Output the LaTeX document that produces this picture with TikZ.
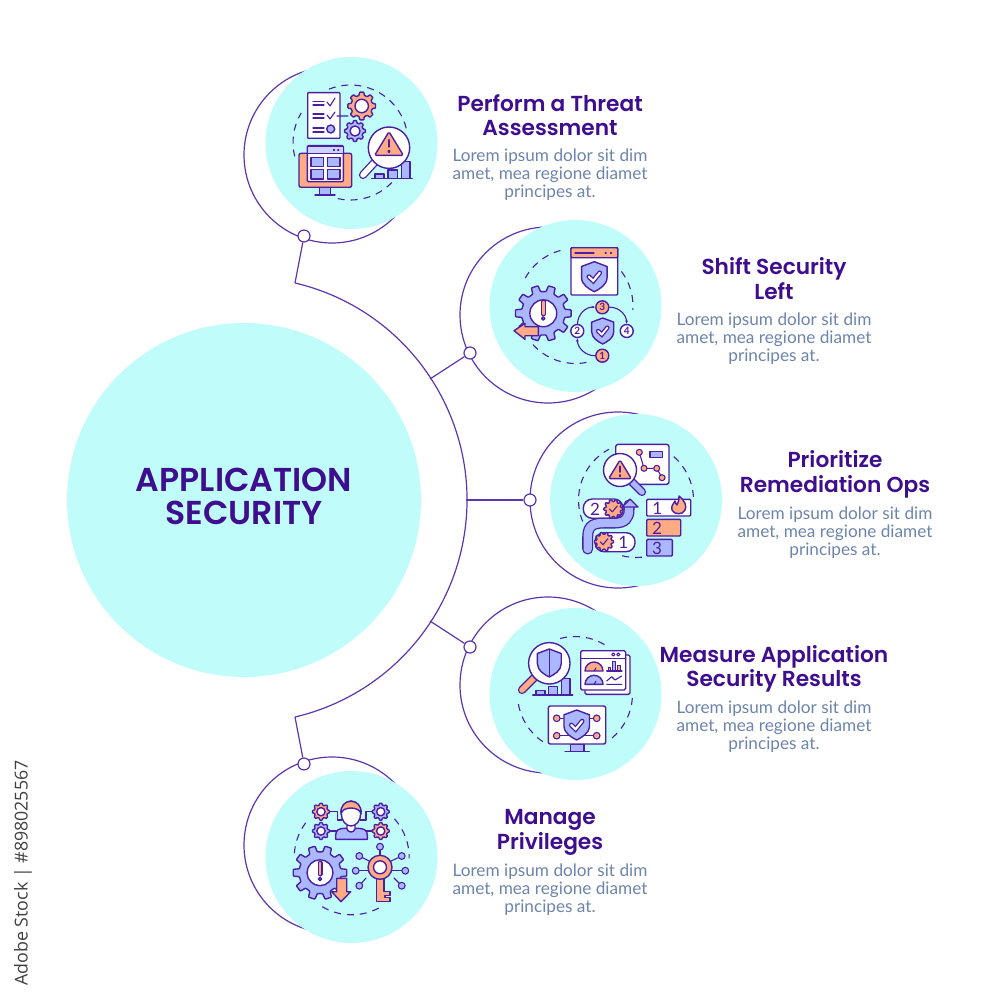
\documentclass[tikz,border=0pt]{standalone}
\usepackage{fontspec}
\setmainfont{Lato}
\newfontfamily\sidefont{Open Sans}
\newfontfamily\headfont{Poppins SemiBold}
\usepackage{tikz}
\usetikzlibrary{positioning,arrows.meta}

\definecolor{ink}{HTML}{4B1FA3}
\definecolor{headcol}{HTML}{3E0E8E}
\definecolor{bodycol}{HTML}{6D84AB}
\definecolor{aqua}{HTML}{BFFCFA}
\definecolor{peach}{HTML}{FFAB84}
\definecolor{lav}{HTML}{AAB8FF}

\tikzset{
  ic/.style={draw=ink,line width=1.4,line join=round,line cap=round},
  wire/.style={draw=ink,line width=1.1,line join=round,line cap=round},
  dashring/.style={draw=ink,line width=1.1,dash pattern=on 7 off 6},
  link/.style={draw=ink!90,line width=1.2},
  hub/.style={circle,fill=aqua,minimum size=354,inner sep=0},
  hubtext/.style={align=center,text=headcol,inner sep=0,font=\fontsize{33.1}{33.5}\selectfont\headfont},
  bubble/.style={circle,fill=aqua,minimum size=172,inner sep=0},
  ring/.style={circle,link,minimum size=176,inner sep=0},
  dot/.style={circle,link,fill=white,minimum size=12,inner sep=0},
  heading/.style={align=center,text=headcol,inner sep=0,font=\fontsize{21.7}{24.6}\selectfont\headfont},
  body/.style={align=center,text=bodycol,inner sep=0,font=\fontsize{17.2}{17.9}\selectfont},
  numdot/.style={circle,ic,minimum size=13,inner sep=0,font=\fontsize{10}{10}\selectfont\bfseries,text=ink},
  numtxt/.style={inner sep=0,text=ink,font=\fontsize{17}{17}\selectfont},
}

% outlined thick stroke
\newcommand{\tube}[3]{%
  \draw[line cap=round,draw=ink,line width=#1+2.6] #3;
  \draw[line cap=round,draw=#2,line width=#1] #3;}
% x, y, radius, teeth, colour
\newcommand{\gearicon}[5]{%
  \pgfmathsetmacro{\gstep}{360/#4}
  \begin{scope}[shift={(#1,#2)}]
  \draw[ic,fill=#5,rounded corners=.7] ({-.3*\gstep}:{.78*#3})
    \foreach \k in {1,...,#4} {
      -- ({(\k-1.2)*\gstep}:{#3}) -- ({(\k-.8)*\gstep}:{#3})
      -- ({(\k-.7)*\gstep}:{.78*#3}) -- ({(\k-.3)*\gstep}:{.78*#3})
    } -- cycle;
  \draw[ic,fill=white] (0,0) circle[radius=.48*#3];
  \end{scope}}
% x, y, radius: scalloped badge with a tick
\newcommand{\badgeicon}[3]{%
  \gearicon{#1}{#2}{#3}{10}{peach}
  \fill[peach] (#1,#2) circle[radius=.62*#3];
  \draw[wire] ({#1-.4*#3},#2) -- ({#1-.1*#3},{#2+.3*#3}) -- ({#1+.4*#3},{#2-.3*#3});}
% x, y, size, colour
\newcommand{\shieldicon}[4]{%
  \begin{scope}[shift={(#1,#2)},scale=#3]
    \draw[ic,fill=#4] (0,-1) -- (.85,-.68) -- (.85,.05) .. controls (.85,.55) and (.35,.82) .. (0,1)
      .. controls (-.35,.82) and (-.85,.55) .. (-.85,.05) -- (-.85,-.68) -- cycle;
  \end{scope}}
\newcommand{\checkicon}[3]{%
  \tube{#3/6}{white}{({#1-.42*#3},#2) -- ({#1-.08*#3},{#2+.32*#3}) -- ({#1+.42*#3},{#2-.3*#3})}}
% x, y, size
\newcommand{\warnicon}[3]{%
  \begin{scope}[shift={(#1,#2)},scale=#3]
    \draw[ic,fill=peach,rounded corners=1.5] (0,-1) -- (1.08,.78) -- (-1.08,.78) -- cycle;
    \draw[ic] (0,-.4) -- (0,.15);
    \draw[ic] (0,.48) circle[radius=.07];
  \end{scope}}
% lens x, y, radius, neck x, y, handle x, y, colour
\newcommand{\magicon}[8]{%
  \tube{2.4}{white}{(#1,#2) -- (#4,#5)}
  \tube{5.6}{#8}{(#4,#5) -- (#6,#7)}
  \draw[ic,fill=white] (#1,#2) circle[radius=#3];}
% x, top, bottom, dot, width
\newcommand{\bangicon}[5]{%
  \tube{#5}{peach}{(#1,#2) -- (#1,#3)}
  \draw[ic,fill=peach] (#1,#4) circle[radius=#5*.7];}
% centre x, y, start, end
\newcommand{\dasharc}[4]{%
  \begin{scope}[shift={(#1,#2)}]
  \draw[dashring] (#3:57.5) arc[start angle=#3,end angle=#4,radius=57.5];
  \end{scope}}

\begin{document}
\begin{tikzpicture}[x=1pt,y=-1pt]
\useasboundingbox (0,0) rectangle (1000,1000);

\node[ring] (ring1) at (332,155) {};
\node[ring] (ring2) at (548,315) {};
\node[ring] (ring3) at (618,500) {};
\node[ring] (ring4) at (548,685) {};
\node[ring] (ring5) at (332,845) {};

\node[bubble] (bub1) at (351.5,143) {};
\node[bubble] (bub2) at (575.5,306) {};
\node[bubble] (bub3) at (636,500) {};
\node[bubble] (bub4) at (575.5,694) {};
\node[bubble] (bub5) at (351.5,857) {};

\node[hub] (hub) at (244,500) {};
\node[hubtext] (hublabel) at (244,496.5) {APPLICATION\\SECURITY};
\coordinate (spinetop) at (295,283);
\coordinate (spineup) at (430,379);
\coordinate (spinemid) at (466,500);
\coordinate (spinelow) at (430,621);
\coordinate (spinebot) at (295,717);
\draw[link] (spinetop) arc[start angle=-76.8,end angle=76.8,radius=222.9];

\node[dot] (dot1) at (304,236) {};
\node[dot] (dot2) at (470,353) {};
\node[dot] (dot3) at (530,500) {};
\node[dot] (dot4) at (470,647) {};
\node[dot] (dot5) at (304,764) {};
\draw[link] (spinetop) -- (dot1);
\draw[link] (spineup) -- (dot2);
\draw[link] (spinemid) -- (dot3);
\draw[link] (spinelow) -- (dot4);
\draw[link] (spinebot) -- (dot5);

\node[heading] (head1) at (550,115) {Perform a Threat\\Assessment};
\node[heading] (head2) at (774,278.5) {Shift Security\\Left};
\node[heading] (head3) at (835,474.5) {Prioritize\\Remediation Ops};
\node[heading] (head4) at (774,669) {Measure Application\\Security Results};
\node[heading] (head5) at (550,832.5) {Manage\\Privileges};
\node[body] (text1) at (550,175) {Lorem ipsum dolor sit dim\\amet, mea regione diamet\\principes at.};
\node[body] (text2) at (774,339) {Lorem ipsum dolor sit dim\\amet, mea regione diamet\\principes at.};
\node[body] (text3) at (835,532.5) {Lorem ipsum dolor sit dim\\amet, mea regione diamet\\principes at.};
\node[body] (text4) at (774,726.5) {Lorem ipsum dolor sit dim\\amet, mea regione diamet\\principes at.};
\node[body] (text5) at (550,890) {Lorem ipsum dolor sit dim\\amet, mea regione diamet\\principes at.};
\node[rotate=90,inner sep=0,text=black!75,font=\fontsize{17.8}{18}\selectfont\sidefont] (stock) at (23,873) {Adobe Stock | \#898025567};

% threat assessment
\dasharc{350.5}{142.5}{-112}{-14}
\dasharc{350.5}{142.5}{44}{105}
\dasharc{350.5}{142.5}{166}{211}
\draw[ic,fill=white,rounded corners=.8] (307.7,92.7) rectangle (340,138.3);
\foreach \yy in {101.7,105,114,118,128,132} \draw[wire] (313,\yy) -- (324,\yy);
\draw[wire] (327,102) -- (330,106) -- (335,98);
\draw[wire] (327,115) -- (330,119) -- (335,112) (337,116) -- (348,116);
\draw[ic,fill=lav] (330.7,129) circle[radius=4];
\gearicon{361.7}{106}{14}{8}{peach}
\gearicon{355}{131}{10.5}{8}{lav}
\draw[ic,fill=lav] (319.3,187.3) rectangle (330.7,195);
\draw[ic] (315,195) -- (335,195);
\draw[ic,fill=peach,rounded corners=2] (299,153.3) rectangle (351.7,187.3);
\draw[ic,fill=white,rounded corners=1] (307.3,145.7) rectangle (343.3,181.7);
\draw[ic,fill=lav!60] (307.3,153.3) -- (307.3,146.7) -- (343.3,146.7) -- (343.3,153.3) -- cycle;
\draw[ic,fill=lav] (311,157.7) rectangle (323.3,166.7) (327.3,157.7) rectangle (340,166.7)
  (311,169.3) rectangle (323.3,179) (327.3,169.3) rectangle (340,179);
\draw[wire,fill=ink] (334,150) circle[radius=.6] (338.3,150) circle[radius=.6];
\draw[ic,fill=lav] (375,178.3) rectangle (384,174) (388,178.3) rectangle (397.3,170) (401.7,178.3) rectangle (410,161.7);
\draw[ic] (371.7,178.3) -- (412.3,178.3);
\magicon{389}{147.7}{20.7}{374}{163}{363}{175}{white}
\warnicon{389}{145}{13.3}

% shift security left
\dasharc{575.5}{306}{209}{257}
\dasharc{575.5}{306}{79}{140}
\dasharc{575.5}{306}{-37}{4}
\draw[ic,fill=white,rounded corners=1] (571,247.7) rectangle (617.7,295);
\draw[ic,fill=peach,rounded corners=1] (571,247.7) rectangle (617.7,257.7);
\draw[wire] (575,253) -- (594,253);
\draw[wire,fill=ink] (605.7,253) circle[radius=.6] (611,253) circle[radius=.6];
\shieldicon{594.3}{276.7}{15}{lav}
\checkicon{594.3}{276.7}{13}
\gearicon{543.3}{313.3}{28}{10}{lav}
\bangicon{543.3}{302}{314}{318.5}{2.4}
\draw[ic,fill=peach] (514,330.7) -- (525,323.3) -- (525,326.7) -- (538.3,326.7) -- (538.3,335.7) -- (525,335.7) -- (525,339.3) -- cycle;
\shieldicon{602.7}{331}{13}{lav}
\checkicon{602.7}{331}{11}
\node[numdot,fill=peach] (num1) at (602.3,355.7) {1};
\node[numdot,fill=white] (num2) at (577.3,331) {2};
\node[numdot,fill=peach] (num3) at (602.3,307.3) {3};
\node[numdot,fill=white] (num4) at (626.7,331) {4};
\draw[wire,-{Stealth[length=3.5pt]}] (num1) to[bend left=45] (num2);
\draw[wire,-{Stealth[length=3.5pt]}] (num2) to[bend left=45] (num3);
\draw[wire,-{Stealth[length=3.5pt]}] (num3) to[bend left=45] (num4);

% prioritize remediation
\dasharc{636}{500}{158}{242}
\dasharc{636}{500}{-49}{-2}
\dasharc{636}{500}{84}{106}
\draw[ic,fill=white,rounded corners=2.5] (615.7,444.3) rectangle (669,484.3);
\draw[ic,fill=lav] (650,451.7) rectangle (662.7,457.3);
\draw[wire] (639.3,452.3) -- (644,468.3) -- (656.7,468.3) -- (662,477.7);
\foreach \xx/\yy in {639.3/452.3,644/468.3,656.7/468.3,662/477.7}
  \draw[wire,fill=peach] (\xx,\yy) circle[radius=3];
\magicon{620}{470}{16.5}{632}{482}{642}{492}{lav}
\warnicon{620}{470.5}{10.5}
\draw[ic,fill=white,rounded corners=9] (583.3,499) rectangle (623,518.3);
\draw[ic,fill=white,rounded corners=9] (595,532.7) rectangle (635,551.7);
\node[numtxt] (pill2) at (595,509) {2};
\node[numtxt] (pill1) at (623.3,542) {1};
\tube{8.4}{lav}{(587.7,549) -- (587.7,537) .. controls (587.7,524) and (595,523) .. (606,523) -- (615,523) .. controls (625,523) and (629,518) .. (629,510) -- (629,505)}
\draw[ic,fill=lav] (630,499) -- (638,507) -- (622,507) -- cycle;
\badgeicon{613.3}{509}{9.6}
\badgeicon{604}{541.7}{9.6}
\draw[ic,fill=white,rounded corners=1] (646.7,499.3) rectangle (690.7,516);
\draw[ic,fill=peach,rounded corners=1] (646.7,519.3) rectangle (680.7,536);
\draw[ic,fill=lav,rounded corners=1] (646.7,539.3) rectangle (672.3,556);
\node[numtxt] (bar1) at (657.3,508) {1};
\node[numtxt] (bar2) at (657,528) {2};
\node[numtxt] (bar3) at (657,548) {3};
\draw[ic,fill=peach] (679,496) .. controls (685,501) and (687,506) .. (685,510) .. controls (683,515) and (674,515) .. (672,510)
  .. controls (671,506) and (673,504) .. (675,501) .. controls (675.5,503) and (676,504) .. (677,505) .. controls (679,502) and (679,499) .. (679,496) -- cycle;

% measure results
\dasharc{575}{694}{255}{301}
\dasharc{575}{694}{4}{50}
\dasharc{575}{694}{124}{171}
\draw[ic,fill=lav] (536,695) rectangle (545,690.7) (548.3,695) rectangle (557.3,686.7) (561.7,695) rectangle (570,678.3);
\draw[ic] (532.7,695) -- (572.7,695);
\magicon{549.3}{663.3}{20.7}{534}{678}{522}{690}{peach}
\shieldicon{549.3}{663}{14}{lav}
\draw[wire] (549.3,650) -- (549.3,676);
\draw[ic,fill=white,rounded corners=1.5] (585,655) rectangle (630,694.3);
\draw[ic,fill=white,rounded corners=1.5] (580.7,650.7) rectangle (625.7,690);
\draw[wire] (580.7,658.3) -- (625.7,658.3);
\draw[wire] (613.3,654.5) circle[radius=1.6] (618.3,654.5) circle[radius=1.6];
\draw[ic,fill=peach] (585,671) arc[start angle=180,end angle=360,radius=9] -- cycle;
\draw[ic,fill=lav] (585,684.3) arc[start angle=180,end angle=360,radius=9] -- cycle;
\draw[wire] (594,671) -- (596,668) (594,684.3) -- (596,681.3);
\draw[wire,fill=peach] (608.3,671) rectangle (610.7,667.7) (617.3,671) rectangle (620.7,665.7);
\draw[wire,fill=lav] (612.3,671) rectangle (615.7,661.7);
\draw[wire] (606.7,671) -- (622,671);
\draw[wire] (606.7,681) -- (611.7,676.7) -- (615,680) -- (621.7,676) (606.7,684.3) -- (621.7,684.3);
\draw[ic,fill=lav] (570.7,744) rectangle (584,751.7);
\draw[ic] (565,751.7) -- (589.3,751.7);
\draw[ic,fill=white,rounded corners=2] (548.3,706) rectangle (605.7,744);
\draw[wire] (559,718.3) -- (594,718.3) (559,735.7) -- (594,735.7);
\shieldicon{576.7}{725}{15}{lav}
\checkicon{576.7}{725}{13}
\foreach \xx/\yy in {556.7/718.3,556.7/735.7,596.7/718.3,596.7/735.7}
  \draw[wire,fill=peach] (\xx,\yy) circle[radius=3.3];

% manage privileges
\dasharc{351.7}{857.3}{184}{221}
\dasharc{351.7}{857.3}{-42}{1}
\dasharc{351.7}{857.3}{62}{124}
\draw[wire] (329.3,811.7) -- (337.7,811.7) -- (337.7,820) -- (342.3,820)
  (372.3,811.7) -- (366,811.7) -- (366,820) -- (360,820) (329.3,831) -- (340,831) (372.3,831) -- (362,831);
\gearicon{321}{811.7}{8.6}{8}{peach}
\gearicon{380.7}{811.7}{8.6}{8}{lav}
\gearicon{321}{831}{8.6}{8}{lav}
\gearicon{380.7}{831}{8.6}{8}{peach}
\draw[ic,fill=lav] (335.7,839.3) -- (335.7,835) .. controls (335.7,830) and (339,828.3) .. (345,828.3) -- (357,828.3) .. controls (364,828.3) and (367.3,830) .. (367.3,835) -- (367.3,839.3) -- cycle;
\draw[ic,fill=white] (347,824) -- (347,829) .. controls (348,833) and (354,833) .. (355,829) -- (355,824) -- cycle;
\draw[ic,fill=white] (351,813.5) ellipse[x radius=9.7,y radius=12.5];
\draw[ic,fill=peach] (341,814) .. controls (339,797) and (363,797) .. (361,814) .. controls (360,806) and (342,806) .. (341,814) -- cycle;
\gearicon{320}{872.7}{27}{10}{lav}
\bangicon{320}{863}{874}{879}{2.4}
\draw[ic,fill=peach] (336.7,878.3) -- (346.7,878.3) -- (346.7,891.7) -- (350.7,891.7) -- (341,901.7) -- (331.7,891.7) -- (336.7,891.7) -- cycle;
\foreach \xx/\yy/\xb/\yb in {380/846.7/380/855,359.3/856/371/862,401.7/856/389/862,355.7/870.7/368/870.7,405.3/870.7/392/870.7,359.3/885.7/366/878,401.7/885.7/394/878}{
  \draw[wire] (\xx,\yy) -- (\xb,\yb);
  \draw[wire,fill=lav] (\xx,\yy) circle[radius=3.4];}
\draw[ic,fill=peach] (376.7,878) -- (376.7,901.7) -- (390,901.7) -- (390,897.7) -- (385,897.7) -- (385,895.7) -- (390,895.7) -- (390,891.7) -- (384,891.7) -- (384,878) -- cycle;
\draw[ic,fill=peach] (380,867.3) circle[radius=12];
\draw[ic,fill=white] (380,867.3) circle[radius=6.5];
\end{tikzpicture}
\end{document}
